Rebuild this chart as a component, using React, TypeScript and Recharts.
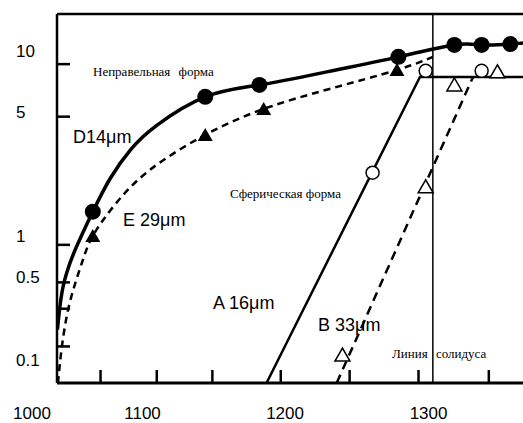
import React from "react";
import { ComposedChart, Line, Scatter, XAxis, YAxis, ReferenceLine } from "recharts";

// axis labels
const tempLabels = [1000, 1100, 1200, 1300];
const valueLabels = [0.1, 0.5, 1, 5, 10];
// short unlabelled tick marks drawn inside the frame
const tempMarks = [1062, 1110, 1149, 1197, 1245, 1293, 1342];
const valueMarks = [0.13, 0.27, 0.45, 0.86, 4.7, 8.6];

// the original axes are hand drawn and unevenly spaced, so values go through
// a piecewise scale (temperature -> units, log10(value) -> units)
const X_STOPS: [number, number][] = [[1000, 0], [1100, 110.5], [1200, 253], [1300, 396.5]];
const Y_STOPS: [number, number][] = [[-1, 23], [Math.log10(0.5), 106], [0, 147], [Math.log10(5), 271], [1, 332]];

const T_MIN = 1022.6;
const T_MAX = 1369.3;
const V_MIN = 0.064;
const V_MAX = 15.2;
const SOLIDUS = 1303;

// D 14um – irregular particles (solid curve, filled circles)
const dTemp = [1023, 1028, 1039, 1055, 1071, 1090, 1110, 1144, 1182, 1230, 1279, 1318, 1337, 1357, 1375];
const dValue = [0.18, 0.41, 0.79, 1.37, 2.12, 3.1, 4.2, 5.93, 6.79, 7.9, 9.34, 10.7, 10.7, 10.8, 11.1];
const dDotTemp = [1055, 1144, 1182, 1279, 1318, 1337, 1357];
const dDotValue = [1.37, 5.93, 6.79, 9.34, 10.7, 10.7, 10.8];

// E 29um – irregular particles (dashed curve, filled triangles)
const eTemp = [1023.5, 1027, 1034, 1045, 1055, 1075, 1105, 1144, 1185, 1231, 1278, 1303];
const eValue = [0.064, 0.129, 0.3, 0.63, 1.0, 1.5, 2.35, 3.71, 5.17, 6.49, 8.05, 9.34];
const eDotTemp = [1055, 1144, 1185, 1278];
const eDotValue = [1.0, 3.71, 5.17, 8.05];

// A 16um – spherical particles (solid line, open circles)
const aTemp = [1187, 1294, 1375];
const aValue = [0.064, 7.44, 7.44];
const aDotTemp = [1261, 1298, 1337];
const aDotValue = [2.27, 7.97, 7.97];

// B 33um – spherical particles (dashed line, open triangles)
const bTemp = [1236, 1331];
const bValue = [0.064, 7.44];
const bDotTemp = [1240, 1298, 1318, 1348];
const bDotValue = [0.11, 1.89, 6.79, 7.88];

const PLOT_LEFT = 57;
const PLOT_BOTTOM = 383;

function interp(stops: [number, number][], v: number) {
  let i = 0;
  while (i < stops.length - 2 && v > stops[i + 1][0]) i++;
  const [x0, y0] = stops[i];
  const [x1, y1] = stops[i + 1];
  return y0 + ((v - x0) * (y1 - y0)) / (x1 - x0);
}
const toX = (t: number) => interp(X_STOPS, t);
const toY = (v: number) => interp(Y_STOPS, Math.log10(v));

const pts = (ts: number[], vs: number[]) => ts.map((t, i) => ({ x: toX(t), y: toY(vs[i]) }));

const xLabelMap = new Map(tempLabels.map((t) => [toX(t), String(t)]));
const yLabelMap = new Map(valueLabels.map((v) => [toY(v), String(v)]));
const xTicks = [...tempLabels, ...tempMarks].map(toX);
const yTicks = [...valueLabels, ...valueMarks].map(toY);

const tickFont = { fontFamily: "'Liberation Sans', Arial, sans-serif", fontSize: 17, fill: "#000" };

const XTick = ({ x, payload }: any) => {
  const label = xLabelMap.get(payload.value);
  if (label) {
    return (
      <text x={x} y={413} dy="0.35em" textAnchor="middle" {...tickFont}>
        {label}
      </text>
    );
  }
  return <line x1={x} x2={x} y1={PLOT_BOTTOM} y2={PLOT_BOTTOM - 13} stroke="#000" strokeWidth={2.5} />;
};

const YTick = ({ y, payload }: any) => {
  const label = yLabelMap.get(payload.value);
  if (label) {
    return (
      <text x={16} y={y} dy="0.35em" textAnchor="start" {...tickFont}>
        {label}
      </text>
    );
  }
  return <line x1={PLOT_LEFT} x2={PLOT_LEFT + 13} y1={y} y2={y} stroke="#000" strokeWidth={2.5} />;
};

const FilledCircle = ({ cx, cy }: any) => <circle cx={cx} cy={cy} r={8} fill="#000" />;
const OpenCircle = ({ cx, cy }: any) => (
  <circle cx={cx} cy={cy} r={6.5} fill="#fff" stroke="#000" strokeWidth={1.5} />
);
const FilledTriangle = ({ cx, cy }: any) => (
  <polygon points={`${cx},${cy - 7} ${cx - 7.5},${cy + 6} ${cx + 7.5},${cy + 6}`} fill="#000" />
);
const OpenTriangle = ({ cx, cy }: any) => (
  <polygon
    points={`${cx},${cy - 7} ${cx - 7.5},${cy + 6} ${cx + 7.5},${cy + 6}`}
    fill="#fff"
    stroke="#000"
    strokeWidth={1.5}
  />
);

const sans: React.CSSProperties = {
  position: "absolute",
  fontFamily: "'Liberation Sans', Arial, sans-serif",
  fontSize: 18,
  lineHeight: "18px",
  whiteSpace: "nowrap",
  color: "#000",
};
const serif: React.CSSProperties = {
  position: "absolute",
  fontFamily: "'Liberation Serif', 'Times New Roman', serif",
  fontSize: 13,
  lineHeight: "13px",
  whiteSpace: "nowrap",
  color: "#000",
};

export default function App() {
  return (
    <div
      style={{
        position: "absolute",
        left: 0,
        top: 0,
        width: 523,
        height: 423,
        overflow: "hidden",
        background: "#fff",
      }}
    >
      <ComposedChart width={530} height={423} margin={{ top: 14, right: 2, bottom: 0, left: 0 }}>
        <XAxis
          type="number"
          dataKey="x"
          domain={[toX(T_MIN), toX(T_MAX)]}
          allowDataOverflow
          ticks={xTicks}
          interval={0}
          height={40}
          tickLine={false}
          axisLine={{ stroke: "#000", strokeWidth: 3 }}
          tick={<XTick />}
        />
        <YAxis
          type="number"
          dataKey="y"
          domain={[toY(V_MIN), toY(V_MAX)]}
          allowDataOverflow
          ticks={yTicks}
          interval={0}
          width={PLOT_LEFT}
          tickLine={false}
          axisLine={{ stroke: "#000", strokeWidth: 2.5 }}
          tick={<YTick />}
        />
        <ReferenceLine y={toY(V_MAX)} stroke="#000" strokeWidth={2.5} />
        <ReferenceLine x={toX(SOLIDUS)} stroke="#000" strokeWidth={1.5} />

        <Line data={pts(dTemp, dValue)} dataKey="y" type="natural" stroke="#000" strokeWidth={3.5} dot={false} isAnimationActive={false} />
        <Line data={pts(eTemp, eValue)} dataKey="y" type="natural" stroke="#000" strokeWidth={2.5} strokeDasharray="7 5" dot={false} isAnimationActive={false} />
        <Line data={pts(aTemp, aValue)} dataKey="y" type="linear" stroke="#000" strokeWidth={2.5} dot={false} isAnimationActive={false} />
        <Line data={pts(bTemp, bValue)} dataKey="y" type="linear" stroke="#000" strokeWidth={2.5} strokeDasharray="9 6" dot={false} isAnimationActive={false} />

        <Scatter data={pts(dDotTemp, dDotValue)} shape={<FilledCircle />} isAnimationActive={false} />
        <Scatter data={pts(eDotTemp, eDotValue)} shape={<FilledTriangle />} isAnimationActive={false} />
        <Scatter data={pts(aDotTemp, aDotValue)} shape={<OpenCircle />} isAnimationActive={false} />
        <Scatter data={pts(bDotTemp, bDotValue)} shape={<OpenTriangle />} isAnimationActive={false} />
      </ComposedChart>

      <div style={{ ...serif, left: 93, top: 65, wordSpacing: 5 }}>Неправельная форма</div>
      <div style={{ ...serif, left: 230, top: 187 }}>Сферическая форма</div>
      <div style={{ ...serif, left: 392, top: 347, wordSpacing: 5 }}>Линия солидуса</div>
      <div style={{ ...sans, left: 73, top: 128 }}>D14μm</div>
      <div style={{ ...sans, left: 123, top: 211 }}>E 29μm</div>
      <div style={{ ...sans, left: 213, top: 294 }}>A 16μm</div>
      <div style={{ ...sans, left: 318, top: 316 }}>B 33μm</div>
    </div>
  );
}
